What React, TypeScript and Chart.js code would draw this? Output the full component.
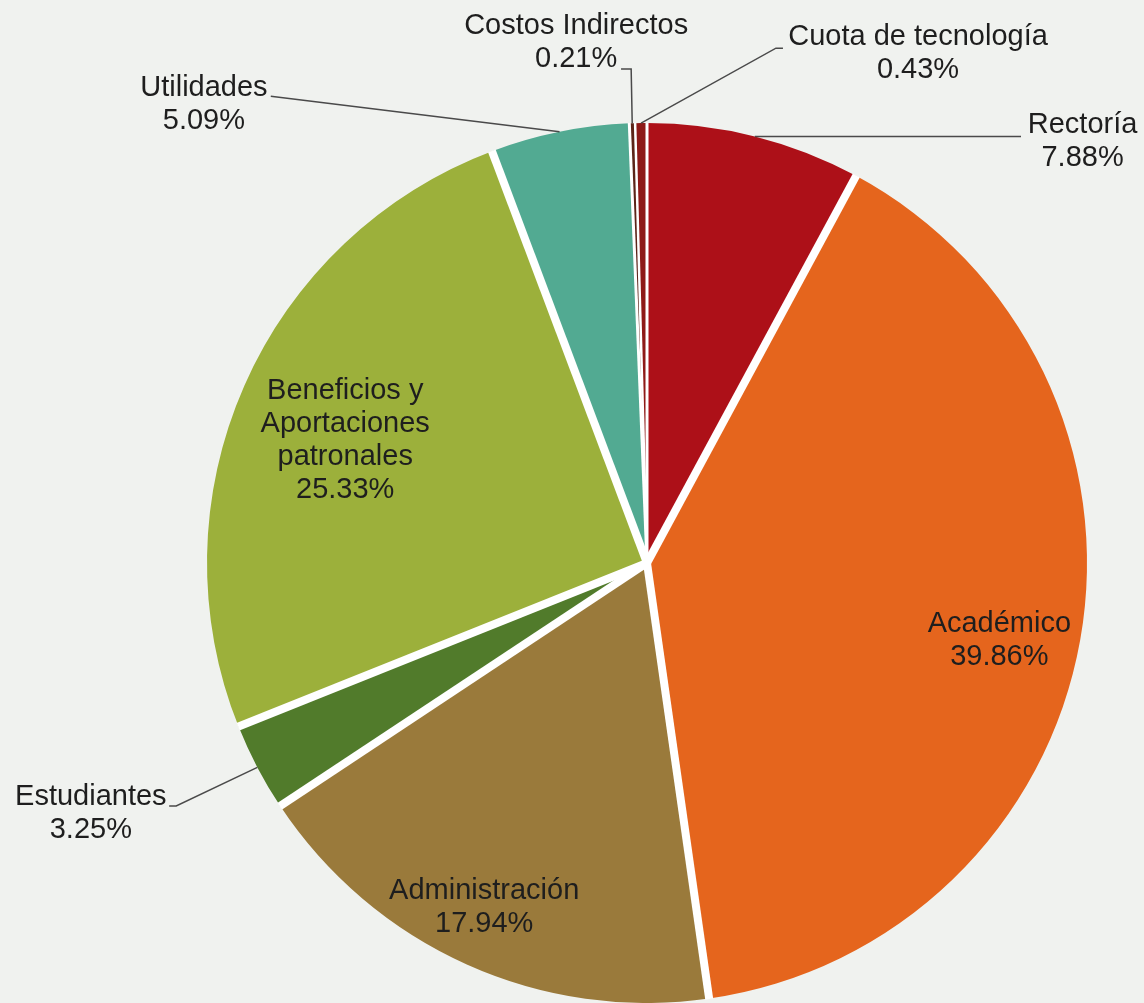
import React, { useEffect, useRef } from "react";
import { Chart, registerables } from "chart.js";

Chart.register(...registerables);

const categories = [
  "Rectoría",
  "Académico",
  "Administración",
  "Estudiantes",
  "Beneficios y Aportaciones patronales",
  "Utilidades",
  "Costos Indirectos",
  "Cuota de tecnología",
];
const values = [7.88, 39.86, 17.94, 3.25, 25.33, 5.09, 0.21, 0.43];
const labelLines = [
  ["Rectoría"],
  ["Académico"],
  ["Administración"],
  ["Estudiantes"],
  ["Beneficios y", "Aportaciones", "patronales"],
  ["Utilidades"],
  ["Costos Indirectos"],
  ["Cuota de tecnología"],
];
const colors = [
  "#ad1018",
  "#e5651d",
  "#9a7a3b",
  "#517b2b",
  "#9cb03b",
  "#52aa92",
  "#5c2418",
  "#8e1a18",
];
// width of the white gap drawn at the start edge of each slice
const gapWidths = [3, 8, 8, 8, 8, 8, 3, 2.5];

type Place =
  | { kind: "in"; frac: number; dAng?: number }
  | { kind: "out"; pts: [number, number][]; text: [number, number] };

const placements: Place[] = [
  { kind: "out", pts: [[0.85, -0.973]], text: [0.99, -0.957] },
  { kind: "in", frac: 0.82, dAng: 0.04 },
  { kind: "in", frac: 0.865, dAng: 0.02 },
  { kind: "out", pts: [[-1.07, 0.552], [-1.086, 0.552]], text: [-1.264, 0.57] },
  { kind: "in", frac: 0.74, dAng: -0.03 },
  { kind: "out", pts: [[-0.855, -1.061]], text: [-1.007, -1.043] },
  { kind: "out", pts: [[-0.036, -1.123], [-0.059, -1.123]], text: [-0.161, -1.184] },
  { kind: "out", pts: [[0.293, -1.17], [0.309, -1.17]], text: [0.616, -1.157] },
];

const FONT = "29px 'Liberation Sans', Arial, sans-serif";
const LINE_H = 33;
const BG = "#f0f2ef";

const labelPlugin = {
  id: "pieLabels",
  afterDatasetsDraw(chart: any) {
    const ctx = chart.ctx as CanvasRenderingContext2D;
    const meta = chart.getDatasetMeta(0);
    // white gaps between slices
    ctx.save();
    const a0 = meta.data[0].getProps(["x", "y", "outerRadius"], true);
    ctx.beginPath();
    ctx.arc(a0.x, a0.y, a0.outerRadius + 0.5, 0, Math.PI * 2);
    ctx.clip();
    ctx.strokeStyle = "#ffffff";
    ctx.lineCap = "butt";
    meta.data.forEach((arc: any, i: number) => {
      const p = arc.getProps(["x", "y", "startAngle", "outerRadius"], true);
      ctx.beginPath();
      ctx.lineWidth = gapWidths[i];
      ctx.moveTo(p.x, p.y);
      ctx.lineTo(p.x + Math.cos(p.startAngle) * (p.outerRadius + 8), p.y + Math.sin(p.startAngle) * (p.outerRadius + 8));
      ctx.stroke();
    });
    ctx.restore();

    ctx.save();
    ctx.font = FONT;
    ctx.textAlign = "center";
    ctx.textBaseline = "middle";
    meta.data.forEach((arc: any, i: number) => {
      const p = arc.getProps(["x", "y", "startAngle", "endAngle", "outerRadius"], true);
      const cx = p.x;
      const cy = p.y;
      const r = p.outerRadius;
      const mid = (p.startAngle + p.endAngle) / 2;
      const pl = placements[i];
      const lines = [...labelLines[i], values[i].toFixed(2) + "%"];
      let tx: number, ty: number;
      if (pl.kind === "in") {
        const a = mid + (pl.dAng || 0);
        tx = cx + Math.cos(a) * r * pl.frac;
        ty = cy + Math.sin(a) * r * pl.frac;
      } else {
        const sx = cx + Math.cos(mid) * r;
        const sy = cy + Math.sin(mid) * r;
        ctx.beginPath();
        ctx.strokeStyle = "#4a4a4a";
        ctx.lineWidth = 1.5;
        ctx.moveTo(sx, sy);
        pl.pts.forEach(([ux, uy], k) => {
          const px = cx + ux * r;
          const py = k === 0 && pl.pts.length === 1 && i === 0 ? sy : cy + uy * r;
          ctx.lineTo(px, py);
        });
        ctx.stroke();
        tx = cx + pl.text[0] * r;
        ty = cy + pl.text[1] * r;
      }
      ctx.fillStyle = "#1e1e1e";
      const top = ty - ((lines.length - 1) * LINE_H) / 2;
      lines.forEach((ln, k) => ctx.fillText(ln, tx, top + k * LINE_H));
    });
    ctx.restore();
  },
};

export default function App() {
  const ref = useRef<HTMLCanvasElement | null>(null);
  useEffect(() => {
    document.body.style.margin = "0";
    document.body.style.background = BG;
    if (!ref.current) return;
    const chart = new Chart(ref.current, {
      type: "pie",
      data: {
        labels: categories,
        datasets: [
          {
            data: values,
            backgroundColor: colors,
            borderWidth: 0,
          },
        ],
      },
      options: {
        animation: false,
        responsive: false,
        devicePixelRatio: 1,
        layout: { padding: { left: 207, right: 57, top: 123, bottom: 0 } },
        plugins: {
          legend: { display: false },
          tooltip: { enabled: false },
        },
      },
      plugins: [labelPlugin],
    });
    return () => chart.destroy();
  }, []);
  return (
    <div style={{ width: 1144, height: 1003, background: BG }}>
      <canvas ref={ref} width={1144} height={1003} style={{ display: "block" }} />
    </div>
  );
}
